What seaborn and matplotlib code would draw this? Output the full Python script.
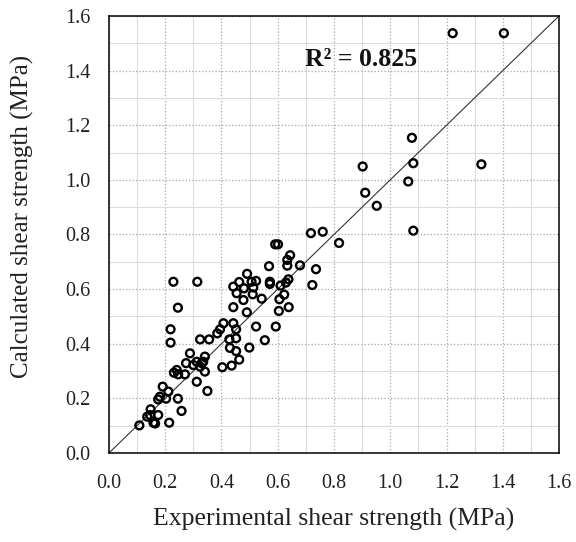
"""Calculated vs experimental shear strength scatter."""
import matplotlib

matplotlib.use("Agg")
import matplotlib.pyplot as plt  # noqa: E402
import pandas as pd  # noqa: E402
import seaborn as sns  # noqa: E402
from matplotlib.ticker import FormatStrFormatter, MultipleLocator  # noqa: E402

sns.set_theme(style="white")
plt.rcParams["font.family"] = ["Liberation Serif", "DejaVu Serif"]

# values
experimental = [
    1.222, 1.404, 1.077, 0.902, 1.082, 1.324, 1.064, 0.911, 0.952, 1.082, 0.818,
    0.718, 0.760, 0.591, 0.601, 0.644, 0.634, 0.634, 0.679, 0.569, 0.736,
    0.491, 0.723, 0.638, 0.629, 0.572, 0.572, 0.610, 0.463, 0.507, 0.523,
    0.442, 0.480, 0.513, 0.454, 0.511, 0.543, 0.478, 0.623, 0.606, 0.442,
    0.639, 0.604, 0.490, 0.407, 0.442, 0.452, 0.395, 0.385, 0.523, 0.593,
    0.324, 0.356, 0.428, 0.452, 0.554, 0.499, 0.430, 0.452, 0.341, 0.335,
    0.463, 0.403, 0.436, 0.341, 0.229, 0.314, 0.245, 0.219, 0.219,
    0.108, 0.146, 0.136, 0.158, 0.164, 0.175, 0.148, 0.214, 0.258, 0.245,
    0.175, 0.181, 0.203, 0.211, 0.191, 0.231, 0.241, 0.246, 0.270,
    0.274, 0.288, 0.300, 0.312, 0.330, 0.324, 0.312, 0.350,
]
calculated = [
    1.537, 1.537, 1.154, 1.049, 1.061, 1.057, 0.994, 0.953, 0.905, 0.814, 0.769,
    0.805, 0.810, 0.764, 0.764, 0.724, 0.707, 0.686, 0.687, 0.684, 0.673,
    0.656, 0.615, 0.636, 0.624, 0.627, 0.619, 0.613, 0.626, 0.627, 0.630,
    0.609, 0.603, 0.606, 0.585, 0.581, 0.565, 0.560, 0.580, 0.563, 0.534,
    0.534, 0.520, 0.515, 0.475, 0.475, 0.453, 0.453, 0.438, 0.463, 0.463,
    0.416, 0.416, 0.416, 0.420, 0.413, 0.386, 0.385, 0.373, 0.353, 0.334,
    0.342, 0.314, 0.320, 0.298, 0.627, 0.627, 0.532, 0.453, 0.404,
    0.101, 0.139, 0.133, 0.111, 0.108, 0.139, 0.160, 0.111, 0.154, 0.199,
    0.196, 0.206, 0.199, 0.225, 0.243, 0.294, 0.304, 0.288, 0.288,
    0.329, 0.365, 0.322, 0.334, 0.329, 0.316, 0.261, 0.227,
]
r_squared = 0.825
axis_limit = 1.6

df = pd.DataFrame({"experimental": experimental, "calculated": calculated})

fig = plt.figure(figsize=(5.76, 5.42), dpi=100)
ax = fig.add_axes([0.1892, 0.1642, 0.9705 - 0.1892, 0.9705 - 0.1642])

# grid: dotted major every 0.2, light minor every 0.1
ax.xaxis.set_major_locator(MultipleLocator(0.2))
ax.yaxis.set_major_locator(MultipleLocator(0.2))
ax.xaxis.set_minor_locator(MultipleLocator(0.1))
ax.yaxis.set_minor_locator(MultipleLocator(0.1))
ax.grid(which="major", color="#a6a6a6", linestyle=":", linewidth=0.9)
ax.grid(which="minor", color="#dcdcdc", linestyle="-", linewidth=0.8)
ax.set_axisbelow(True)

# 1:1 line
ax.plot([0, axis_limit], [0, axis_limit], color="#333333", linewidth=0.8, zorder=2)

sns.scatterplot(
    data=df, x="experimental", y="calculated", ax=ax,
    marker="o", s=32, facecolor="none", edgecolor="black", linewidth=1.7,
    zorder=3,
)

ax.text(0.697, 1.44, f"R\u00b2 = {r_squared:.3f}",
        fontsize=18.5, fontweight="bold", ha="left", va="center", color="#111111")

ax.set_xlim(0, axis_limit)
ax.set_ylim(0, axis_limit)
ax.xaxis.set_major_formatter(FormatStrFormatter("%.1f"))
ax.yaxis.set_major_formatter(FormatStrFormatter("%.1f"))
ax.tick_params(which="both", length=0, labelsize=14.5, colors="#222222")
ax.tick_params(axis="x", pad=15)
ax.tick_params(axis="y", pad=13.5)
ax.set_xlabel("Experimental shear strength (MPa)", fontsize=18.5, labelpad=11,
              color="#222222")
ax.set_ylabel("Calculated shear strength (MPa)", fontsize=18, color="#222222")
ax.yaxis.set_label_coords(-0.167, 0.541)
for spine in ax.spines.values():
    spine.set_color("black")
    spine.set_linewidth(1.1)

fig.savefig("out.png", dpi=100)
plt.close(fig)
